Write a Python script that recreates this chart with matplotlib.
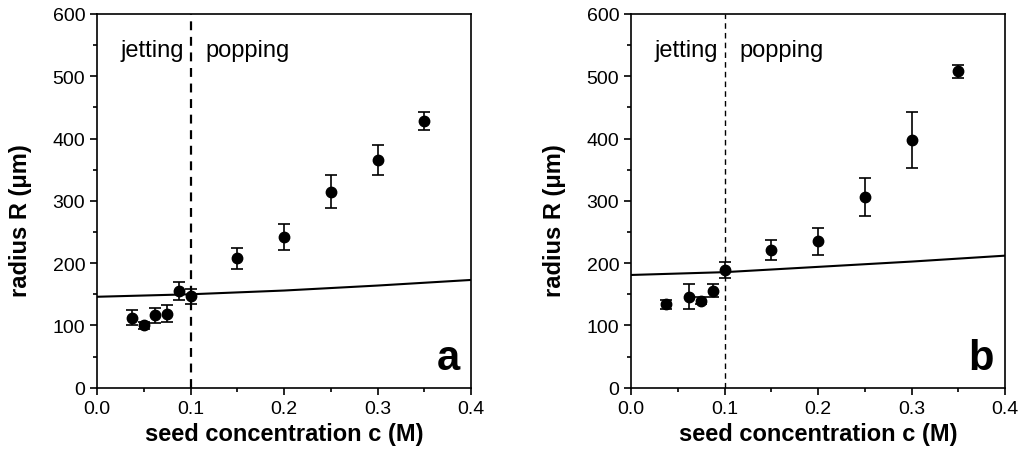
import matplotlib
matplotlib.use("Agg")
import matplotlib.pyplot as plt
from matplotlib.ticker import MultipleLocator

plt.rcParams['font.family'] = ['Liberation Sans', 'DejaVu Sans']

# Panel a
c_a = [0.0375, 0.05, 0.0625, 0.075, 0.0875, 0.1, 0.15, 0.2, 0.25, 0.3, 0.35]
R_a = [112, 100, 116, 119, 155, 147, 208, 242, 315, 366, 428]
err_a = [12, 6, 12, 13, 14, 12, 17, 21, 26, 24, 15]
fit_c_a = [0.0, 0.1, 0.2, 0.3, 0.4]
fit_R_a = [146, 150, 156, 164, 173]

# Panel b
c_b = [0.0375, 0.0625, 0.075, 0.0875, 0.1, 0.15, 0.2, 0.25, 0.3, 0.35]
R_b = [134, 146, 140, 156, 189, 221, 235, 306, 398, 508]
err_b = [7, 20, 5, 10, 13, 16, 22, 30, 45, 10]
fit_c_b = [0.0, 0.1, 0.2, 0.3, 0.4]
fit_R_b = [181, 185.5, 194, 202.5, 212]

panels = [
    (c_a, R_a, err_a, fit_c_a, fit_R_a, 'a', 1.6),
    (c_b, R_b, err_b, fit_c_b, fit_R_b, 'b', 1.0),
]

fig = plt.figure(figsize=(10.22, 4.56), dpi=100)
lefts = [97 / 1022, 631 / 1022]
w = 374 / 1022
bottom = 1 - 388.7 / 456
h = (388.7 - 15) / 456

for left, (c, R, e, fc, fR, lab, dlw) in zip(lefts, panels):
    ax = fig.add_axes([left, bottom, w, h])
    ax.plot(fc, fR, color='black', lw=1.5, zorder=2)
    ax.axvline(0.1, color='black', lw=dlw, ls=(0, (4, 3)), zorder=1)
    ax.errorbar(c, R, yerr=e, fmt='o', color='black', ms=7.5,
                elinewidth=1.2, capsize=4.4, capthick=1.2, zorder=3)
    ax.set_xlim(0, 0.4)
    ax.set_ylim(0, 600)
    ax.xaxis.set_major_locator(MultipleLocator(0.1))
    ax.xaxis.set_minor_locator(MultipleLocator(0.05))
    ax.yaxis.set_major_locator(MultipleLocator(100))
    ax.yaxis.set_minor_locator(MultipleLocator(50))
    ax.tick_params(which='major', direction='out', length=5, width=1.2,
                   labelsize=14, top=False, right=False)
    ax.tick_params(which='minor', direction='out', length=3, width=1.2,
                   top=False, right=False)
    ax.xaxis.set_major_formatter(matplotlib.ticker.FormatStrFormatter('%.1f'))
    for s in ax.spines.values():
        s.set_linewidth(1.2)
    ax.set_xlabel('seed concentration c (M)', fontsize=17, fontweight='bold', labelpad=4)
    ax.set_ylabel('radius R (μm)', fontsize=17, fontweight='bold')
    ax.yaxis.set_label_coords(-0.174, 0.449)
    ax.text(0.093, 533, 'jetting', fontsize=17, ha='right', va='baseline')
    ax.text(0.116, 533, 'popping', fontsize=17, ha='left', va='baseline')
    ax.text(0.97, 0.05, lab, transform=ax.transAxes, fontsize=30,
            fontweight='bold', ha='right', va='baseline')

fig.savefig('out.png', dpi=100)
